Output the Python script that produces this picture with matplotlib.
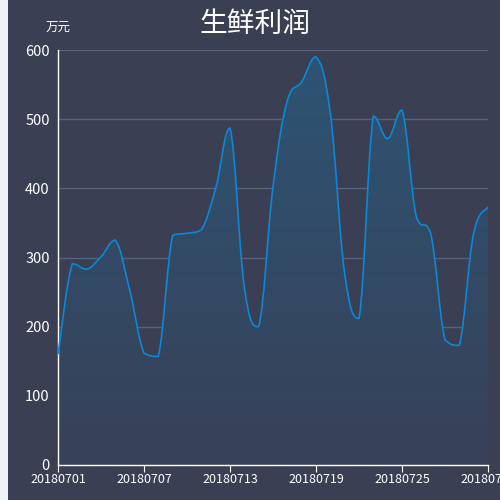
import numpy as np
import matplotlib
matplotlib.use("Agg")
import matplotlib.pyplot as plt
from matplotlib.path import Path
from matplotlib.patches import PathPatch, Rectangle

plt.rcParams['font.family'] = ['Noto Sans CJK SC', 'DejaVu Sans']

dates = ['201807%02d' % d for d in range(1, 32)]
profit = [160, 291, 283, 301, 325, 253, 162, 157, 332, 335, 340, 400, 487, 257, 200,
          402, 527, 554, 590, 508, 277, 212, 504, 472, 513, 359, 335, 181, 173, 335, 373]
yticks = [0, 100, 200, 300, 400, 500, 600]

bg = '#3b3f54'
line_c = '#0b88d6'
grid_c = '#59627c'


def smooth_path(xs, ys, k=0.2):
    # cubic bezier through the points, control points kept between neighbours
    n = len(xs)
    verts = [(xs[0], ys[0])]
    codes = [Path.MOVETO]
    for i in range(n - 1):
        i0 = max(i - 1, 0)
        i2 = min(i + 2, n - 1)
        lo, hi = min(ys[i], ys[i + 1]), max(ys[i], ys[i + 1])
        c1y = min(max(ys[i] + (ys[i + 1] - ys[i0]) * k, lo), hi)
        c2y = min(max(ys[i + 1] - (ys[i2] - ys[i]) * k, lo), hi)
        c1 = (xs[i] + (xs[i + 1] - xs[i0]) * k, c1y)
        c2 = (xs[i + 1] - (xs[i2] - xs[i]) * k, c2y)
        verts += [c1, c2, (xs[i + 1], ys[i + 1])]
        codes += [Path.CURVE4] * 3
    return verts, codes


fig = plt.figure(figsize=(5, 5), dpi=100)
fig.patch.set_facecolor(bg)
fig.patches.append(Rectangle((0, 0), 0.016, 1, transform=fig.transFigure,
                             facecolor='#eef0f6', edgecolor='none'))

ax = fig.add_axes([0.116, 0.07, 0.86, 0.83])
ax.set_facecolor(bg)

x = np.arange(len(profit))
verts, codes = smooth_path(x, profit)

# area with vertical gradient
area_v = verts + [(x[-1], 0), (x[0], 0), (x[0], profit[0])]
area_c = codes + [Path.LINETO, Path.LINETO, Path.CLOSEPOLY]
clip = PathPatch(Path(area_v, area_c), facecolor='none', edgecolor='none')
ax.add_patch(clip)
grad = np.linspace(1, 0, 256).reshape(-1, 1)
cmap = matplotlib.colors.LinearSegmentedColormap.from_list('g', ['#384158', '#2d5474'])
img = ax.imshow(grad, extent=[0, 30, 0, 600], aspect='auto', cmap=cmap,
                origin='upper', zorder=1)
img.set_clip_path(clip)

line = PathPatch(Path(verts, codes), facecolor='none', edgecolor=line_c, lw=1.2, zorder=3)
ax.add_patch(line)

ax.set_xlim(0, 30)
ax.set_ylim(0, 600)
ax.set_yticks(yticks)
ax.set_xticks(x[::6])
ax.set_xticklabels(dates[::6])
ax.grid(axis='y', color=grid_c, lw=1)
ax.set_axisbelow(True)
for s in ['top', 'right']:
    ax.spines[s].set_visible(False)
for s in ['left', 'bottom']:
    ax.spines[s].set_color('white')
    ax.spines[s].set_linewidth(1)
ax.tick_params(axis='y', length=0, colors='white', labelsize=10.5, pad=6)
ax.tick_params(axis='x', length=5, colors='white', labelsize=9, pad=1)

fig.text(0.51, 0.953, '生鲜利润', color='white', fontsize=20, ha='center', va='center')
fig.text(0.116, 0.943, '万元', color='white', fontsize=9, ha='center', va='center')

fig.savefig('out.png', dpi=100, facecolor=bg)
